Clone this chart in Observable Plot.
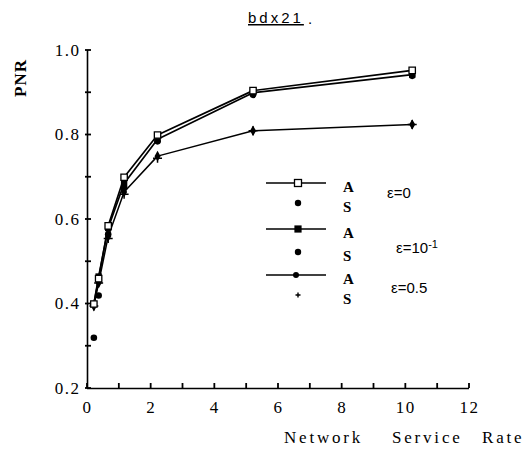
<!DOCTYPE html>
<html>
<head>
<meta charset="utf-8">
<script src="https://cdn.jsdelivr.net/npm/d3@7"></script>
<script src="https://cdn.jsdelivr.net/npm/@observablehq/plot@0.6"></script>
<style>
  html, body { margin: 0; padding: 0; background: #fff; }
  #chart { position: relative; width: 532px; height: 449px; }
  #chart svg text { font-family: "Liberation Serif", "DejaVu Serif", serif; }
  #chart svg text.sans { font-family: "Liberation Sans", Arial, sans-serif; }
</style>
</head>
<body>
<div id="chart"></div>
<script>
// Network service rate (x) and PNR values (y) per series
const rates = [0.2, 0.35, 0.65, 1.15, 2.2, 5.2, 10.2];
const eps0A = [0.40, 0.46, 0.585, 0.70, 0.80, 0.905, 0.953];
const eps1A = [0.40, 0.465, 0.58, 0.685, 0.79, 0.90, 0.943];
const eps5A = [0.395, 0.45, 0.56, 0.665, 0.75, 0.81, 0.825];
const eps0S = [0.40, 0.455, 0.585, 0.69, 0.795, 0.90, 0.948];
const eps1S = [0.32, 0.42, 0.565, 0.675, 0.785, 0.895, 0.94];
const eps5S = [0.395, 0.45, 0.555, 0.66, 0.745, 0.81, 0.825];

const xTickLabels = [0, 2, 4, 6, 8, 10, 12];
const xMinorTicks = [0, 1, 2, 3, 4, 5, 6, 7, 8, 9, 10, 11, 12];
const yTickLabels = [0.2, 0.4, 0.6, 0.8, 1.0];
const yMinorTicks = [0.2, 0.3, 0.4, 0.5, 0.6, 0.7, 0.8, 0.9, 1.0];

const title = "bdx21";
const xLabelWords = ["Network", "Service", "Rate"];
const yLabel = "PNR";

const legendEntries = [
  {kind: "A", series: "eps0A", eps: "ε=0"},
  {kind: "S", series: "eps0S"},
  {kind: "A", series: "eps1A", eps: "ε=10"},
  {kind: "S", series: "eps1S"},
  {kind: "A", series: "eps5A", eps: "ε=0.5"},
  {kind: "S", series: "eps5S"}
];

const rows = (ys) => rates.map((x, i) => ({x, y: ys[i]}));

const W = 532, H = 449, ML = 87, MR = 63, MT = 50, MB = 61;

const plot = Plot.plot({
  width: W,
  height: H,
  marginLeft: ML,
  marginRight: MR,
  marginTop: MT,
  marginBottom: MB,
  x: {domain: [0, 12]},
  y: {domain: [0.2, 1.0]},
  marks: [
    Plot.ruleX([0], {stroke: "#000", strokeWidth: 1.6}),
    Plot.ruleY([0.2], {stroke: "#000", strokeWidth: 1.6}),
    Plot.axisX({ticks: xTickLabels, tickSize: 0, tickPadding: 12, fontSize: 17, tickFormat: d => String(d), label: null}),
    Plot.axisY({ticks: yTickLabels, tickSize: 0, tickPadding: 7, fontSize: 17, tickFormat: d3.format(".1f"), label: null}),
    Plot.line(rows(eps0A), {x: "x", y: "y", stroke: "#000", strokeWidth: 1.7}),
    Plot.line(rows(eps1A), {x: "x", y: "y", stroke: "#000", strokeWidth: 1.7}),
    Plot.line(rows(eps5A), {x: "x", y: "y", stroke: "#000", strokeWidth: 1.5}),
    Plot.dot(rows(eps5S), {x: "x", y: "y", symbol: "plus", stroke: "#000", r: 3, strokeWidth: 1.5}),
    Plot.dot(rows(eps5A), {x: "x", y: "y", symbol: "diamond", fill: "#000", r: 3.2}),
    Plot.dot(rows(eps1S), {x: "x", y: "y", symbol: "circle", fill: "#000", r: 3.3}),
    Plot.dot(rows(eps0S), {x: "x", y: "y", symbol: "circle", fill: "#000", r: 3}),
    Plot.dot(rows(eps1A), {x: "x", y: "y", symbol: "square", fill: "#000", r: 3.6}),
    Plot.dot(rows(eps0A), {x: "x", y: "y", symbol: "square", fill: "#fff", stroke: "#000", strokeWidth: 1.3, r: 3.6})
  ]
});

document.getElementById("chart").appendChild(plot);

const svg = d3.select(plot);
svg.selectAll("text").style("letter-spacing", "1.5px");

// inward minor ticks through Plot's scales
const sx = plot.scale("x"), sy = plot.scale("y");
const x0 = sx.apply(0), y0 = sy.apply(0.2);
const tk = svg.append("g");
xMinorTicks.forEach(v => {
  const px = sx.apply(v);
  tk.append("path").attr("d", `M${px},${y0}V${y0 - 5}`)
    .attr("stroke", "#000").attr("stroke-width", 1.8).attr("fill", "none");
});
yMinorTicks.forEach(v => {
  const py = sy.apply(v);
  tk.append("path").attr("d", `M${x0 - 2},${py}H${x0 + 4}`)
    .attr("stroke", "#000").attr("stroke-width", 1.8).attr("fill", "none");
});

// Title, axis labels
const tg = svg.append("g").attr("fill", "#000").attr("text-anchor", "start");
tg.append("text").attr("class", "sans").attr("x", 248).attr("y", 23).attr("font-size", 15)
  .style("letter-spacing", "3px").style("text-decoration", "underline").text(title);
tg.append("text").attr("class", "sans").attr("x", 308).attr("y", 24).attr("font-size", 15).text(".");
tg.append("text").attr("transform", "translate(26,78) rotate(-90)").attr("text-anchor", "middle")
  .attr("font-size", 17).attr("font-weight", "bold")
  .style("letter-spacing", "1px").text(yLabel);
const wordX = [284, 392, 482];
xLabelWords.forEach((w, i) => {
  tg.append("text").attr("x", wordX[i]).attr("y", 443)
    .attr("font-size", 17).style("letter-spacing", "2.8px").text(w);
});

// Legend overlay
const lg = svg.append("g").attr("fill", "#000").attr("stroke", "none").attr("text-anchor", "start");
const rowY = [183, 203, 229, 252, 275, 295];
legendEntries.forEach((e, i) => {
  const y = rowY[i];
  if (e.kind === "A") {
    lg.append("line").attr("x1", 266).attr("x2", 326).attr("y1", y).attr("y2", y)
      .attr("stroke", "#000").attr("stroke-width", 1.7);
  }
  const mx = 298;
  if (e.series === "eps0A") {
    lg.append("rect").attr("x", mx - 3.5).attr("y", y - 3.5).attr("width", 7).attr("height", 7)
      .attr("fill", "#fff").attr("stroke", "#000").attr("stroke-width", 1.3);
  } else if (e.series === "eps1A") {
    lg.append("rect").attr("x", mx - 3.6).attr("y", y - 3.6).attr("width", 7.2).attr("height", 7.2);
  } else if (e.series === "eps5A") {
    lg.append("circle").attr("cx", mx - 2).attr("cy", y).attr("r", 3);
  } else if (e.series === "eps5S") {
    lg.append("path").attr("d", `M${mx - 2.5},${y}H${mx + 2.5}M${mx},${y - 2.5}V${y + 2.5}`)
      .attr("stroke", "#000").attr("stroke-width", 1.4);
  } else {
    lg.append("circle").attr("cx", mx).attr("cy", y).attr("r", 3.2);
  }
  lg.append("text").attr("x", 343).attr("y", y + 4)
    .attr("dy", "0.35em").attr("font-weight", "bold")
    .attr("font-size", 15).text(e.kind);
});
const epsPos = [[387, 193], [396, 248], [391, 288]];
[0, 2, 4].forEach((idx, k) => {
  const t = lg.append("text").attr("class", "sans").attr("x", epsPos[k][0]).attr("y", epsPos[k][1]).attr("dy", "0.35em")
    .attr("font-size", 15).text(legendEntries[idx].eps);
  if (idx === 2) {
    t.append("tspan").attr("dy", "-0.45em").attr("font-size", 11).text("-1");
  }
});
</script>
</body>
</html>
